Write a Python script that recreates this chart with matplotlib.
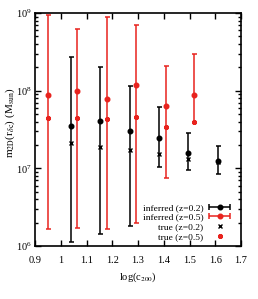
import matplotlib
matplotlib.use("Agg")
import matplotlib.pyplot as plt
import numpy as np
from matplotlib.container import ErrorbarContainer
from matplotlib.lines import Line2D
from matplotlib.collections import LineCollection
from matplotlib.legend_handler import HandlerErrorbar

plt.rcParams['font.family'] = ['Liberation Serif', 'DejaVu Serif']
plt.rcParams['mathtext.fontset'] = 'stix'

# data: z=0.2 (black)
c_z02 = [1.04, 1.152, 1.269, 1.383, 1.495, 1.609]
m_inf_z02 = [3.5e7, 4.1e7, 3.06e7, 2.44e7, 1.59e7, 1.24e7]
m_lo_z02 = [1.14e6, 1.42e6, 1.83e6, 1.04e7, 9.5e6, 8.5e6]
m_hi_z02 = [2.7e8, 2.0e8, 1.15e8, 6.2e7, 2.88e7, 1.94e7]
m_true_z02 = [2.1e7, 1.87e7, 1.73e7, 1.52e7, 1.33e7, 1.2e7]

# data: z=0.5 (red)
c_z05 = [0.952, 1.064, 1.178, 1.292, 1.407, 1.519]
m_inf_z05 = [8.9e7, 1.0e8, 7.8e7, 1.17e8, 6.3e7, 8.9e7]
m_lo_z05 = [1.64e6, 1.7e6, 1.64e6, 2.0e6, 7.4e6, 4.0e7]
m_hi_z05 = [9.4e8, 6.2e8, 9.0e8, 7.0e8, 2.1e8, 3.0e8]
m_true_z05 = [4.4e7, 4.4e7, 4.3e7, 4.6e7, 3.4e7, 4.0e7]

xticks = [0.9, 1.0, 1.1, 1.2, 1.3, 1.4, 1.5, 1.6, 1.7]
xticklabels = ['0.9', '1', '1.1', '1.2', '1.3', '1.4', '1.5', '1.6', '1.7']

RED = '#e8231e'
BLK = 'black'
MS = 3.3

fig = plt.figure(figsize=(2.58, 2.99), dpi=100)
ax = fig.add_axes([35/258, 1-246/299, 206/258, 233/299])

def eb(x, m, lo, hi, color):
    m = np.array(m); lo = np.array(lo); hi = np.array(hi)
    ax.errorbar(x, m, yerr=[m - lo, hi - m], fmt='o', color=color, ms=MS,
                elinewidth=1.1, capsize=1.8, capthick=1.1, zorder=3)

eb(c_z02, m_inf_z02, m_lo_z02, m_hi_z02, BLK)
eb(c_z05, m_inf_z05, m_lo_z05, m_hi_z05, RED)
ax.plot(c_z02, m_true_z02, 'x', color=BLK, ms=3, mew=1.0, zorder=4)
ax.plot(c_z05, m_true_z05, marker=(8, 2, 0), ls='none', color=RED, ms=3.5, mew=1.0, zorder=4)

ax.set_yscale('log')
ax.set_ylim(1e6, 1e9)
ax.set_xlim(0.9, 1.7)
ax.set_xticks(xticks)
ax.set_xticklabels(xticklabels)
ax.minorticks_off()
ax.yaxis.set_minor_locator(matplotlib.ticker.LogLocator(base=10, subs=np.arange(2, 10)))
ax.tick_params(which='both', direction='in', top=True, right=True, labelsize=7.5, width=1.0)
ax.tick_params(which='major', length=4)
ax.tick_params(which='minor', length=2)
ax.tick_params(axis='x', pad=7)
ax.tick_params(axis='y', pad=2)
for s in ax.spines.values():
    s.set_linewidth(1.2)

ax.set_xlabel(r'log(c$_{200}$)', fontsize=7.5)
ax.xaxis.set_label_coords(0.5, -0.105)
ax.set_ylabel(r'm$_{\mathrm{2D}}$(r$_{\delta\mathrm{c}}$) (M$_{\mathrm{sun}}$)', fontsize=8)
ax.yaxis.set_label_coords(-0.088, 0.53)

def proxy(color, marker):
    line = Line2D([], [], color=color, marker=marker, ms=MS, ls='none')
    cap = Line2D([], [], color=color, marker='|', ms=3.8, mew=1.1)
    bar = LineCollection([], colors=color, linewidths=1.1)
    return ErrorbarContainer((line, (cap, cap), (bar,)), has_xerr=True, has_yerr=False)

h1 = proxy(BLK, 'o')
h2 = proxy(RED, 'o')
h3 = Line2D([], [], color=BLK, marker='x', ms=3, mew=1.0, ls='none')
h4 = Line2D([], [], color=RED, marker=(8, 2, 0), ms=3.5, mew=1.0, ls='none')
leg = ax.legend([h1, h2, h3, h4],
                ['inferred (z=0.2)', 'inferred (z=0.5)', 'true (z=0.2)', 'true (z=0.5)'],
                loc='lower right', frameon=False, markerfirst=False, fontsize=6.8,
                handlelength=2.2, handletextpad=0.6, labelspacing=0.12,
                borderaxespad=0.0, borderpad=0.4, bbox_to_anchor=(0.965, 0.005),
                handler_map={ErrorbarContainer: HandlerErrorbar(xerr_size=1.1)})

fig.savefig('out.png', dpi=100)
